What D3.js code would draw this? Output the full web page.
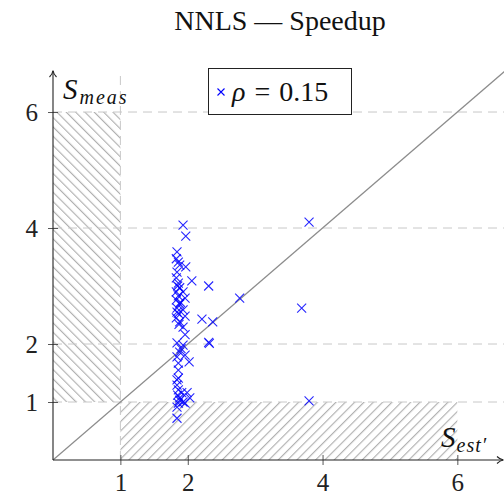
<!DOCTYPE html>
<html>
<head>
<meta charset="utf-8">
<script src="https://cdn.jsdelivr.net/npm/d3@7"></script>
<style>
  html, body { margin: 0; padding: 0; background: #fff; }
  svg { display: block; }
</style>
</head>
<body>
<svg id="chart" width="504" height="496"></svg>
<script>
// Estimated speedup vs. measured speedup for the NNLS kernel
const title = "NNLS — Speedup";
const legendLabel = "0.15";
const xTicks = [1, 2, 4, 6];
const yTicks = [1, 2, 4, 6];

// estimated speedup S_est'
const sEst = [
  1.93, 1.97, 1.84, 1.83, 1.86, 1.88, 1.97, 1.84, 2.06, 1.83,
  1.86, 1.88, 1.83, 1.93, 1.86, 1.96, 1.83, 1.88, 1.84, 1.93,
  1.86, 1.83, 1.96, 1.88, 1.93, 1.96, 1.84, 1.93, 1.88, 1.84,
  1.96, 2.02, 1.86, 1.86, 1.86, 1.84, 1.84, 1.86, 1.91, 1.99,
  2.03, 1.88, 1.93, 1.86, 1.84, 1.96, 1.84,
  3.80, 2.31, 2.77, 3.69, 2.21, 2.37, 2.31, 2.32, 3.80,
  1.85, 1.89, 1.84, 1.87, 1.90, 1.85, 1.88
];
// measured speedup S_meas
const sMeas = [
  4.05, 3.86, 3.59, 3.47, 3.41, 3.36, 3.33, 3.24, 3.09, 3.14,
  3.05, 2.97, 2.90, 2.90, 2.83, 2.79, 2.76, 2.69, 2.62, 2.59,
  2.53, 2.45, 2.48, 2.38, 2.29, 2.16, 2.02, 1.98, 1.86, 1.78,
  1.81, 1.69, 1.67, 1.55, 1.41, 1.38, 1.29, 1.21, 1.16, 1.16,
  1.07, 1.07, 1.00, 0.98, 0.91, 0.98, 0.72,
  4.10, 3.00, 2.79, 2.62, 2.43, 2.38, 2.03, 2.01, 1.02,
  3.00, 2.72, 2.55, 2.34, 1.92, 1.12, 1.03
];

const serif = '"Liberation Serif", "DejaVu Serif", "Times New Roman", serif';
const svg = d3.select("#chart");

const x = d3.scaleLinear().domain([0, 6.7]).range([53, 504.5]);
const y = d3.scaleLinear().domain([0, 6.69]).range([460, 72]);

// hatch patterns for the two regions
const defs = svg.append("defs");
function hatch(id, angle) {
  const p = defs.append("pattern")
    .attr("id", id)
    .attr("patternUnits", "userSpaceOnUse")
    .attr("width", 6.6).attr("height", 10)
    .attr("patternTransform", `rotate(${angle})`);
  p.append("line")
    .attr("x1", 0.6).attr("y1", 0).attr("x2", 0.6).attr("y2", 10)
    .attr("stroke", "#adadad").attr("stroke-width", 1.1);
}
hatch("hatchBack", -45);
hatch("hatchFwd", 45);

// left region: S_est' < 1, 1 < S_meas < 6
svg.append("rect")
  .attr("x", x(0)).attr("y", y(6))
  .attr("width", x(1) - x(0)).attr("height", y(1) - y(6))
  .attr("fill", "url(#hatchBack)");
// bottom region: 1 < S_est' < 6, S_meas < 1
svg.append("rect")
  .attr("x", x(1)).attr("y", y(1))
  .attr("width", x(6) - x(1)).attr("height", y(0) - y(1))
  .attr("fill", "url(#hatchFwd)");

// dashed grid
const grid = svg.append("g")
  .attr("stroke", "#c8c8c8").attr("stroke-width", 1)
  .attr("stroke-dasharray", "9,6");
grid.selectAll("line.h").data(yTicks).join("line")
  .attr("class", "h")
  .attr("x1", x(0)).attr("x2", 504)
  .attr("y1", d => y(d)).attr("y2", d => y(d));
grid.append("line")
  .attr("x1", x(1)).attr("x2", x(1))
  .attr("y1", y(0)).attr("y2", y(6.69));

// reference line S_meas = S_est'
svg.append("line")
  .attr("x1", x(0)).attr("y1", y(0))
  .attr("x2", x(6.7)).attr("y2", y(6.7))
  .attr("stroke", "#8c8c8c").attr("stroke-width", 1.2);

// axes
const xAxis = svg.append("g")
  .attr("transform", `translate(0,${y(0)})`)
  .call(d3.axisBottom(x).tickValues(xTicks).tickSize(5).tickFormat(d3.format("d")));
const yAxis = svg.append("g")
  .attr("transform", `translate(${x(0)},0)`)
  .call(d3.axisLeft(y).tickValues(yTicks).tickSize(5).tickFormat(d3.format("d")));
[xAxis, yAxis].forEach(a => {
  a.attr("font-family", null);
  a.select(".domain").remove();
  a.selectAll(".tick line").attr("stroke", "#444").attr("stroke-width", 0.9);
  a.selectAll(".tick text")
    .style("font-family", serif).attr("font-size", 25).attr("fill", "#222");
});
xAxis.selectAll(".tick line").attr("y1", -5).attr("y2", 5);
xAxis.selectAll(".tick text").attr("y", 31).attr("dy", 0);
yAxis.selectAll(".tick line").attr("x1", -5).attr("x2", 5);
yAxis.selectAll(".tick text").attr("x", -15).attr("dy", "0.34em");

// axis lines with arrowheads
const ax = svg.append("g").attr("stroke", "#222").attr("stroke-width", 1.1).attr("fill", "none");
ax.append("line").attr("x1", x(0)).attr("y1", y(0)).attr("x2", 503).attr("y2", y(0));
ax.append("line").attr("x1", x(0)).attr("y1", y(0)).attr("x2", x(0)).attr("y2", 71);
ax.append("path").attr("d", `M497,${y(0) - 3.5} Q500,${y(0) - 0.5} 503.5,${y(0)} Q500,${y(0) + 0.5} 497,${y(0) + 3.5}`);
ax.append("path").attr("d", `M${x(0) - 3.5},77 Q${x(0) - 0.5},74 ${x(0)},70.5 Q${x(0) + 0.5},74 ${x(0) + 3.5},77`);

// axis labels
const yl = svg.append("text")
  .attr("x", 63).attr("y", 99)
  .style("font-family", serif).attr("font-style", "italic").attr("fill", "#111");
yl.append("tspan").attr("font-size", 29).text("S");
yl.append("tspan").attr("font-size", 20).attr("dy", 5).attr("dx", 2)
  .attr("letter-spacing", 2).text("meas");

const xl = svg.append("text")
  .attr("x", 441).attr("y", 447)
  .style("font-family", serif).attr("font-style", "italic").attr("fill", "#111");
xl.append("tspan").attr("font-size", 29).text("S");
xl.append("tspan").attr("font-size", 20).attr("dy", 5).attr("dx", 1)
  .attr("letter-spacing", 1).text("est′");

// data points
const cross = (cx, cy, r) => `M${cx - r},${cy - r}L${cx + r},${cy + r}M${cx - r},${cy + r}L${cx + r},${cy - r}`;
svg.append("g")
  .selectAll("path")
  .data(sEst.map((v, i) => [v, sMeas[i]]))
  .join("path")
  .attr("d", d => cross(x(d[0]), y(d[1]), 4.5))
  .attr("stroke", "#0000ff").attr("stroke-width", 1.1)
  .attr("fill", "none").attr("stroke-opacity", 0.85);

// legend
const lg = svg.append("g");
lg.append("rect")
  .attr("x", 208.5).attr("y", 68.5).attr("width", 143).attr("height", 46)
  .attr("fill", "#fff").attr("stroke", "#222").attr("stroke-width", 1);
lg.append("path").attr("d", cross(221, 92, 3.5))
  .attr("stroke", "#0000ff").attr("stroke-width", 1.1).attr("fill", "none");
const lt = lg.append("text")
  .attr("x", 232).attr("y", 101)
  .attr("xml:space", "preserve")
  .style("white-space", "pre")
  .style("font-family", serif).attr("font-size", 28).attr("fill", "#111");
lt.append("tspan").attr("font-style", "italic").text("ρ");
lt.append("tspan").attr("dx", 2).text(" = ");
lt.append("tspan").attr("dx", 2).text(legendLabel);

// title
svg.append("text")
  .attr("x", 280).attr("y", 30)
  .attr("text-anchor", "middle")
  .style("font-family", serif).attr("font-size", 28).attr("fill", "#111")
  .text(title);
</script>
</body>
</html>
